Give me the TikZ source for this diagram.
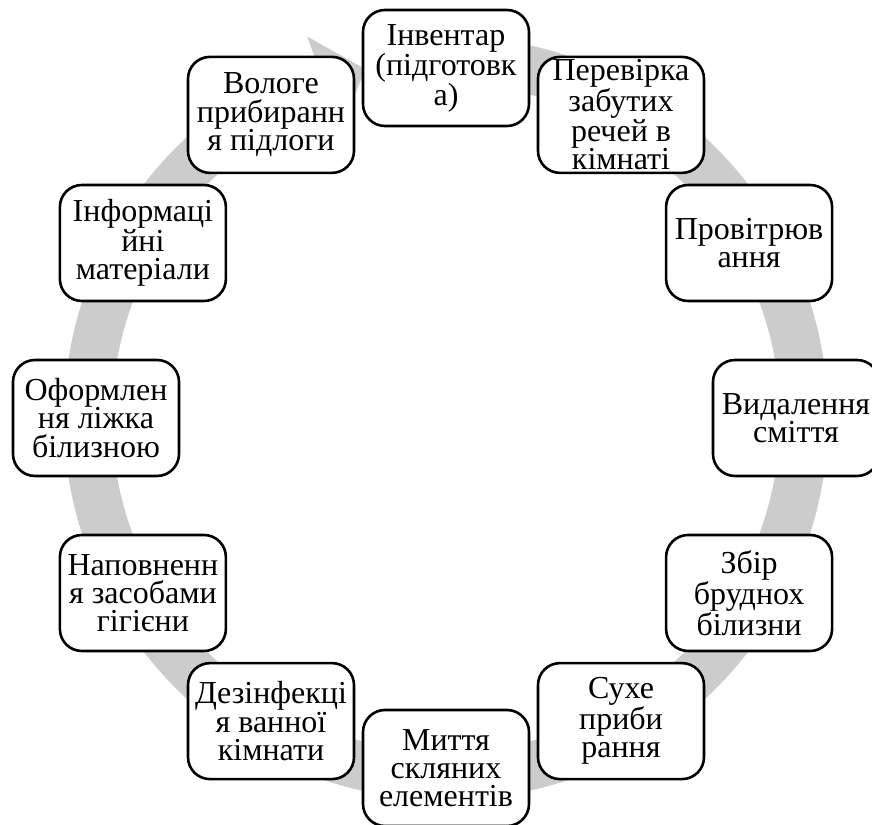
\documentclass[tikz,border=0pt]{standalone}
\usepackage{fontspec}
\setmainfont{Liberation Serif}
\definecolor{ringgray}{RGB}{204,204,204}
\begin{document}
\begin{tikzpicture}[x=1pt,y=1pt,
ring/.style={fill=ringgray,draw=none},
stage/.style={draw=black,fill=white,line width=2.6pt,rounded corners=22pt,minimum width=166pt,minimum height=116pt,inner sep=1pt,align=center,font=\fontsize{32}{28.3}\selectfont,text=black}
]
\useasboundingbox (-446,-406) rectangle (426,418);
\fill[ring] (84:334) arc[start angle=84,end angle=-250,radius=334pt] -- (110:308) -- (103:358) -- (110:406) -- (110:382) arc[start angle=-250,end angle=84,radius=382pt] -- cycle;
\node[stage] (s1) at (90:350) {Інвентар\\(підготовк\\а)};
\node[stage] (s2) at (60:350) {Перевірка\\забутих\\речей в\\кімнаті};
\node[stage] (s3) at (30:350) {Провітрюв\\ання};
\node[stage] (s4) at (0:350) {Видалення\\сміття};
\node[stage] (s5) at (-30:350) {Збір\\бруднох\\білизни};
\node[stage] (s6) at (-60:350) {Сухе\\приби\\рання};
\node[stage] (s7) at (-90:350) {Миття\\скляних\\елементів};
\node[stage] (s8) at (-120:350) {Дезінфекці\\я ванної\\кімнати};
\node[stage] (s9) at (-150:350) {Наповненн\\я засобами\\гігієни};
\node[stage] (s10) at (180:350) {Оформлен\\ня ліжка\\білизною};
\node[stage] (s11) at (150:350) {Інформаці\\йні\\матеріали};
\node[stage] (s12) at (120:350) {Вологе\\прибиранн\\я підлоги};
\end{tikzpicture}
\end{document}
